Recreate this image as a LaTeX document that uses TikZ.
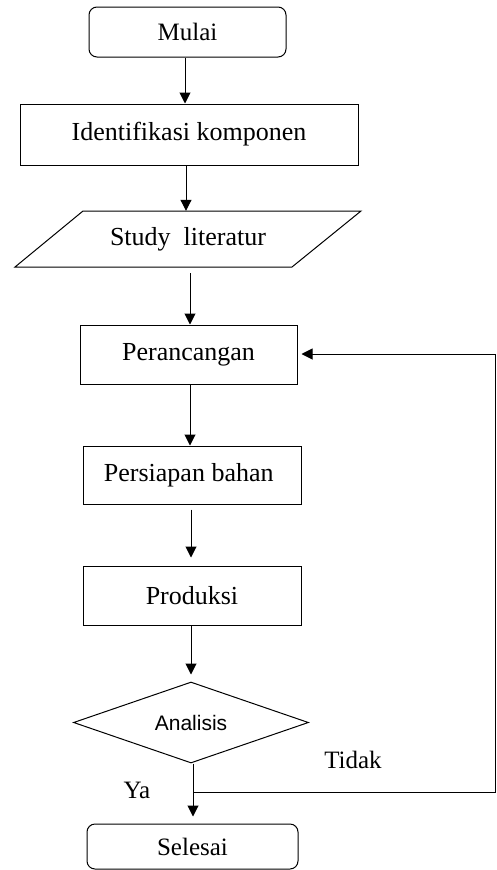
\documentclass[tikz,border=0pt]{standalone}
\usepackage{fontspec}
\setmainfont{Liberation Serif}
\newfontfamily\sansf{Liberation Sans}
\usetikzlibrary{shapes.geometric,arrows.meta}
\begin{document}
\begin{tikzpicture}[x=1pt,y=-1pt,
  every node/.style={font=\fontsize{26}{29}\selectfont, inner sep=0pt},
  box/.style={draw, line width=1pt, rectangle},
  term/.style={draw, line width=1pt, rectangle, rounded corners=8pt},
  flow/.style={line width=1pt, -{Triangle[length=11pt,width=11pt]}},
  lbl/.style={font=\fontsize{25}{28}\selectfont}]
\useasboundingbox (0,0) rectangle (496,870);
\node[term, minimum width=197pt, minimum height=50pt, font=\fontsize{25}{28}\selectfont] (mulai) at (187.5,32) {Mulai};
\node[box, minimum width=338pt, minimum height=61pt] (ident) at (189,134.5) {Identifikasi komponen};
\node[minimum width=200pt, minimum height=56pt] (study) at (188,239) {Study\ \ literatur};
\draw[line width=1pt] (83,211) -- (361,211) -- (292,267) -- (15,267) -- cycle;
\node[box, minimum width=217pt, minimum height=59pt] (ranc) at (188.5,354.5) {Perancangan};
\node[box, minimum width=218pt, minimum height=58pt] (siap) at (192,475) {Persiapan bahan\ \ };
\node[box, minimum width=218pt, minimum height=59pt] (prod) at (192,595.5) {Produksi};
\node[draw, diamond, aspect=2.9, line width=1pt, minimum width=235pt, minimum height=81pt, font=\sansf\fontsize{21}{24}\selectfont] (anal) at (191,722.5) {Analisis};
\node[term, minimum width=211pt, minimum height=45pt, font=\fontsize{25}{28}\selectfont] (sel) at (192.5,846.5) {Selesai};
\node[lbl] (ya) at (137,790) {Ya};
\node[lbl] (tidak) at (353,760) {Tidak};
\coordinate (j) at (193,792);
\coordinate (r1) at (495,792);
\coordinate (r2) at (495,354);

\draw[flow] (mulai.south -| 185,0) -- (ident.north -| 185,0);
\draw[flow] (ident.south -| 186,0) -- (study.north -| 186,0);
\draw[flow, shorten <=6pt] (study.south -| 190,0) -- (ranc.north -| 190,0);
\draw[flow] (ranc.south -| 190,0) -- (siap.north -| 190,0);
\draw[flow, shorten <=5pt, shorten >=8pt] (siap.south -| 191,0) -- (prod.north -| 191,0);
\draw[flow, shorten >=7pt] (prod.south -| 191,0) -- (anal.north -| 191,0);
\draw[flow, shorten >=7pt] (anal.south -| 193,0) -- (sel.north -| 193,0);
\draw[flow, shorten >=4pt] (j) -- (r1) -- (r2) -- (ranc.east |- r2);
\end{tikzpicture}
\end{document}
